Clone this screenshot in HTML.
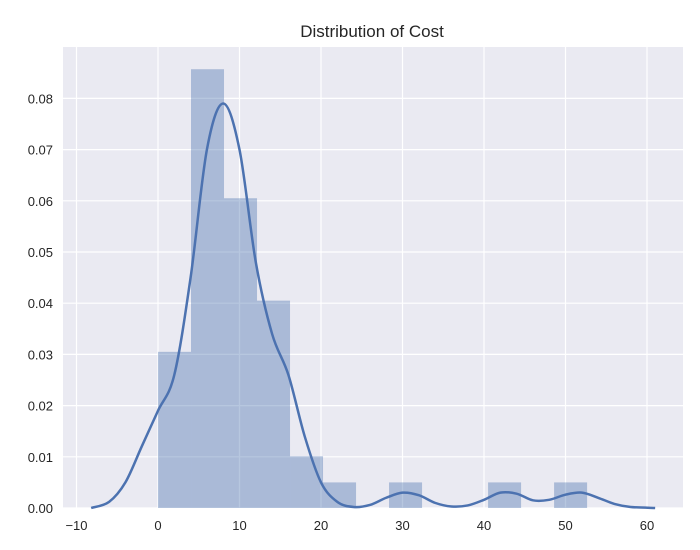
<!DOCTYPE html>
<html><head><meta charset="utf-8"><style>
body{margin:0;background:#fff;}
svg{display:block;font-family:"Liberation Sans",sans-serif;}
</style></head><body>
<svg id="chart" width="700" height="550" viewBox="0 0 700 550"></svg>
<script>
const binEdgesStart = 0;
const binWidth = 4.05;
const binHeights = [0.0305,0.0857,0.0605,0.0405,0.0101,0.005,0,0.005,0,0,0.005,0,0.005];
const kdeX = [-8.2,-6,-4,-2,0,2,4,6,8,10,12,14,16,18,20,22,24,26,28,30,32,34,36,38,40,42,44,46,48,50,52,54,56,58,61];
const kdeY = [0,0.0012,0.005,0.012,0.019,0.026,0.045,0.07,0.079,0.07,0.048,0.034,0.026,0.014,0.005,0.0012,0.0002,0.0006,0.002,0.003,0.0025,0.001,0.0003,0.0005,0.0016,0.003,0.0028,0.0015,0.0016,0.0026,0.003,0.002,0.0008,0.0002,0];
const xTicks = [-10,0,10,20,30,40,50,60];
const yTicks = [0,0.01,0.02,0.03,0.04,0.05,0.06,0.07,0.08];
const yLabels = ["0.00","0.01","0.02","0.03","0.04","0.05","0.06","0.07","0.08"];

const L=63,R=683,T=47,B=508;
const xs=v=>158+v*8.15;
const ys=v=>508-v*5120;
const svg=document.getElementById('chart');
const NS='http://www.w3.org/2000/svg';
function mk(t,a,p){const e=document.createElementNS(NS,t);for(const k in a)e.setAttribute(k,a[k]);(p||svg).appendChild(e);return e;}

const bg=mk('rect',{x:L,y:T,width:R-L,height:B-T,fill:'#eaeaf2'});



xTicks.forEach(v=>{
  const g=mk('line',{x1:xs(v),x2:xs(v),y1:T,y2:B,stroke:'#fff','stroke-width':1.2});
  
  
  const t=mk('text',{x:xs(v),y:530,'text-anchor':'middle','font-size':13,fill:'#262626'});
  t.textContent=v<0?'\u2212'+Math.abs(v):String(v);
  
  
});
yTicks.forEach((v,i)=>{
  const g=mk('line',{x1:L,x2:R,y1:ys(v),y2:ys(v),stroke:'#fff','stroke-width':1.2});
  
  
  const t=mk('text',{x:53,y:ys(v)+5,'text-anchor':'end','font-size':13,fill:'#262626'});
  t.textContent=yLabels[i];
  
  
});

binHeights.forEach((h,i)=>{
  if(h<=0)return;
  const x0=binEdgesStart+i*binWidth;
  const r=mk('rect',{x:xs(x0),y:ys(h),width:xs(x0+binWidth)-xs(x0),height:ys(0)-ys(h),fill:'#4c72b0','fill-opacity':0.4});
  
  
});

const pts=kdeX.map((x,i)=>[xs(x),ys(kdeY[i])]);
let d='M'+pts[0][0]+','+pts[0][1];
for(let i=0;i<pts.length-1;i++){
  const p0=pts[Math.max(0,i-1)],p1=pts[i],p2=pts[i+1],p3=pts[Math.min(pts.length-1,i+2)];
  const c1=[p1[0]+(p2[0]-p0[0])/6,p1[1]+(p2[1]-p0[1])/6];
  const c2=[p2[0]-(p3[0]-p1[0])/6,p2[1]-(p3[1]-p1[1])/6];
  d+=` C${c1[0]},${c1[1]} ${c2[0]},${c2[1]} ${p2[0]},${p2[1]}`;
}
const kde=mk('path',{d:d,fill:'none',stroke:'#4c72b0','stroke-width':2.5});



const title=mk('text',{x:372,y:37,'text-anchor':'middle','font-size':17,fill:'#262626'});
title.textContent='Distribution of Cost';


</script>
</body></html>
